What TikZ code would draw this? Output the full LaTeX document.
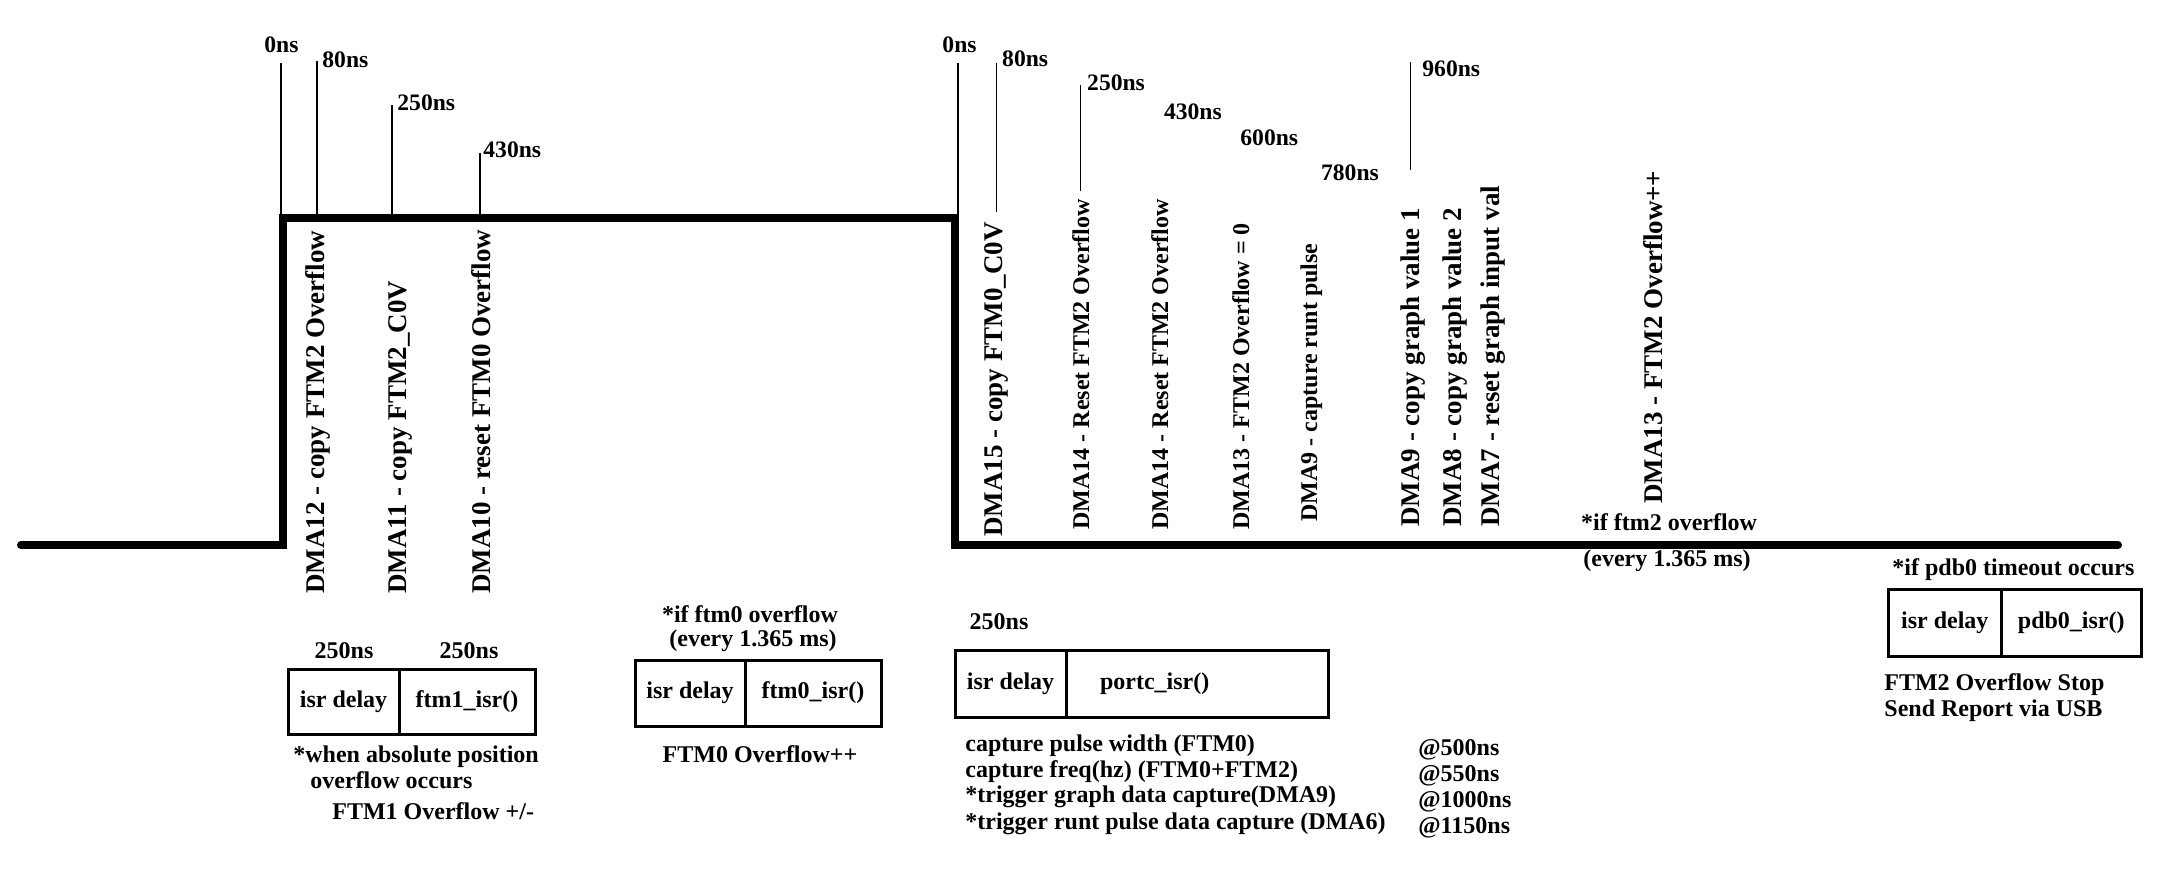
\documentclass[tikz,border=0pt]{standalone}
\usepackage{fontspec}
\setmainfont{Liberation Serif}
\usetikzlibrary{positioning}

\begin{document}
\begin{tikzpicture}[x=0.5pt,y=-0.5pt,
	lbl/.style={inner sep=0pt,anchor=base west,font=\fontsize{12}{13}\selectfont\bfseries},
	tlbl/.style={lbl,font=\fontsize{11.8}{13}\selectfont\bfseries},
	dma/.style={inner sep=0pt,rotate=90,anchor=base west,font=\fontsize{13.5}{15}\selectfont\bfseries},
	dmasm/.style={dma,font=\fontsize{12}{13}\selectfont\bfseries},
	cell/.style={draw,line width=1.5pt,inner sep=0pt,outer sep=0pt,font=\fontsize{12}{13}\selectfont\bfseries},
	signal/.style={line width=4pt,line cap=round},
	tick/.style={line width=0.6pt}]
	\useasboundingbox (0,0) rectangle (2175,873);

	\coordinate (s1) at (21,545);
	\coordinate (s2) at (283,545);
	\coordinate (s3) at (283,218);
	\coordinate (s4) at (955,218);
	\coordinate (s5) at (955,545);
	\coordinate (s6) at (2118,545);
	\draw[signal] (s1) -- (s2) -- (s3) -- (s4) -- (s5) -- (s6);

	\node[tlbl,anchor=base] (v1) at (281.5,52.5) {0ns};
	\node[tlbl] (v2) at (322,67) {80ns};
	\node[tlbl] (v3) at (397,110) {250ns};
	\node[tlbl] (v4) at (483,157) {430ns};
	\coordinate (k1) at (281,214);
	\coordinate (c1) at (281,63);
	\coordinate (k2) at (317,214);
	\coordinate (c2) at (317,61);
	\coordinate (k3) at (392,214);
	\coordinate (c3) at (392,105);
	\coordinate (k4) at (480,214);
	\coordinate (c4) at (480,153);
	\draw[tick] (k1) -- (c1);
	\draw[tick] (k2) -- (c2);
	\draw[tick] (k3) -- (c3);
	\draw[tick] (k4) -- (c4);

	\node[dma] (v5) at (324,594) {DMA12 - copy FTM2 Overflow};
	\node[dma] (v6) at (406,594) {DMA11 - copy FTM2\_C0V};
	\node[dma] (v7) at (490,594) {DMA10 - reset FTM0 Overflow};

	\node[tlbl,anchor=base] (v8) at (959.5,52.5) {0ns};
	\node[tlbl] (v9) at (1001.8,66.7) {80ns};
	\node[tlbl] (v10) at (1086.8,90) {250ns};
	\node[tlbl] (v11) at (1163.6,119.3) {430ns};
	\node[tlbl] (v12) at (1240,145) {600ns};
	\node[tlbl] (v13) at (1320.7,180) {780ns};
	\node[tlbl] (v14) at (1422,76.7) {960ns};
	\coordinate (k5) at (958,214);
	\coordinate (c5) at (958,63);
	\coordinate (k6) at (996.4,212);
	\coordinate (c6) at (996.4,63);
	\coordinate (k7) at (1080.4,191);
	\coordinate (c7) at (1080.4,85);
	\coordinate (k8) at (1410.7,170);
	\coordinate (c8) at (1410.7,61.7);
	\draw[tick] (k5) -- (c5);
	\draw[tick] (k6) -- (c6);
	\draw[tick] (k7) -- (c7);
	\draw[tick] (k8) -- (c8);

	\node[dma] (v15) at (1002,537) {DMA15 - copy FTM0\_C0V};
	\node[dmasm] (v16) at (1089,530) {DMA14 - Reset FTM2 Overflow};
	\node[dmasm] (v17) at (1168,530) {DMA14 - Reset FTM2 Overflow};
	\node[dmasm] (v18) at (1249,530) {DMA13 - FTM2 Overflow = 0};
	\node[dmasm] (v19) at (1317,522) {DMA9 - capture runt pulse};
	\node[dma] (v20) at (1419,527) {DMA9 - copy graph value 1};
	\node[dma] (v21) at (1461,527) {DMA8 - copy graph value 2};
	\node[dma] (v22) at (1499,527) {DMA7 - reset graph input val};
	\node[dma] (v23) at (1662,504) {DMA13 - FTM2 Overflow++};
	\node[lbl] (v24) at (1580.7,530) {*if ftm2 overflow};
	\node[lbl] (v25) at (1583,566.7) {(every 1.365 ms)};

	\node[lbl,anchor=base] (v26) at (344,658) {250ns};
	\node[lbl,anchor=base] (v27) at (469,658) {250ns};
	\node[cell,anchor=north west,minimum width=55.5pt,minimum height=32.5pt] (d1) at (288,669) {isr delay};
	\node[cell,right=0pt of d1,minimum width=68pt,minimum height=32.5pt] (f1) {ftm1\_isr()};
	\node[lbl] (v28) at (293,762.7) {*when absolute position};
	\node[lbl] (v29) at (310,788) {overflow occurs};
	\node[lbl] (v30) at (332,819) {FTM1 Overflow +/-};

	\node[lbl,anchor=base] (v31) at (750,622) {*if ftm0 overflow};
	\node[lbl,anchor=base] (v32) at (753,646.7) {(every 1.365 ms)};
	\node[cell,anchor=north west,minimum width=55pt,minimum height=33pt] (d2) at (635,660) {isr delay};
	\node[cell,right=0pt of d2,minimum width=68pt,minimum height=33pt] (f2) {ftm0\_isr()};
	\node[lbl,anchor=base] (v33) at (760,762.7) {FTM0 Overflow++};

	\node[lbl,anchor=base] (v34) at (999,629.3) {250ns};
	\node[cell,anchor=north west,minimum width=55.5pt,minimum height=33.5pt] (d3) at (955,650) {isr delay};
	\node[cell,right=0pt of d3,minimum height=33.5pt,text width=97pt,inner xsep=17pt,align=left] (f3) {portc\_isr()};
	\node[lbl] (v35) at (965,751.7) {capture pulse width (FTM0)};
	\node[lbl] (v36) at (965,777.7) {capture freq(hz) (FTM0+FTM2)};
	\node[lbl] (v37) at (965,802.7) {*trigger graph data capture(DMA9)};
	\node[lbl] (v38) at (965,829.3) {*trigger runt pulse data capture (DMA6)};
	\node[lbl] (v39) at (1418,755.7) {@500ns};
	\node[lbl] (v40) at (1418,781.7) {@550ns};
	\node[lbl] (v41) at (1418,807.3) {@1000ns};
	\node[lbl] (v42) at (1418,833.3) {@1150ns};

	\node[lbl] (v43) at (1892,575.6) {*if pdb0 timeout occurs};
	\node[cell,anchor=north west,minimum width=56.75pt,minimum height=33.5pt] (d4) at (1888,589) {isr delay};
	\node[cell,right=0pt of d4,minimum width=69.75pt,minimum height=33.5pt] (f4) {pdb0\_isr()};
	\node[lbl] (v44) at (1884,690) {FTM2 Overflow Stop};
	\node[lbl] (v45) at (1884,716) {Send Report via USB};
\end{tikzpicture}
\end{document}
